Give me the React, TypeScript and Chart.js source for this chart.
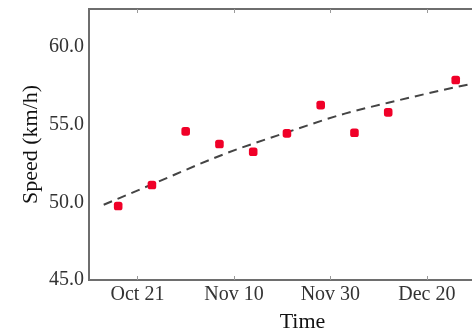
import React, { useEffect, useRef } from "react";
import { Chart, registerables } from "chart.js";

Chart.register(...registerables);

// ---- data ----
const pointDates = [
  "2021-10-17", "2021-10-24", "2021-10-31", "2021-11-07", "2021-11-14",
  "2021-11-21", "2021-11-28", "2021-12-05", "2021-12-12", "2021-12-26",
];
const speedValues = [49.76, 51.11, 54.56, 53.75, 53.25, 54.43, 56.25, 54.47, 55.78, 57.86];

const trendDates = [
  "2021-10-14", "2021-10-24", "2021-11-08", "2021-11-21",
  "2021-12-03", "2021-12-12", "2021-12-26", "2021-12-30",
];
const trendValues = [49.84, 51.15, 53.1, 54.5, 55.7, 56.4, 57.4, 57.65];

const xTickDates = ["2021-10-21", "2021-11-10", "2021-11-30", "2021-12-20"];
const xTickLabels = ["Oct 21", "Nov 10", "Nov 30", "Dec 20"];
const yTickValues = [45, 50, 55, 60];

const xTitle = "Time";
const yTitle = "Speed (km/h)";

const BASE = Date.parse("2021-10-01T00:00:00Z");
const dayNum = (s: string) => (Date.parse(s + "T00:00:00Z") - BASE) / 86400000;

const FONT = "'Liberation Serif', 'Times New Roman', serif";
const AXIS_COLOR = "#6e6e6e";

export default function App() {
  const ref = useRef<HTMLCanvasElement | null>(null);

  useEffect(() => {
    if (!ref.current) return;
    const tickDays = xTickDates.map(dayNum);

    const frame = {
      id: "frame",
      afterDraw(chart: any) {
        const { ctx, chartArea } = chart;
        const { left, right, top, bottom } = chartArea;
        ctx.save();
        ctx.strokeStyle = AXIS_COLOR;
        ctx.lineWidth = 2;
        ctx.beginPath();
        ctx.moveTo(left - 1, top);
        ctx.lineTo(right, top);
        ctx.stroke();
        ctx.strokeStyle = "#9a9a9a";
        ctx.lineWidth = 1;
        const xs = chart.scales.x;
        tickDays.forEach((d) => {
          const px = Math.round(xs.getPixelForValue(d)) + 0.5;
          ctx.beginPath();
          ctx.moveTo(px, top);
          ctx.lineTo(px, top + 4);
          ctx.moveTo(px, bottom);
          ctx.lineTo(px, bottom - 4);
          ctx.stroke();
        });
        ctx.restore();
      },
    };

    const chart = new Chart(ref.current, {
      type: "scatter",
      data: {
        datasets: [
          {
            label: "Speed",
            data: pointDates.map((d, i) => ({ x: dayNum(d), y: speedValues[i] })),
            pointStyle: "rectRounded",
            pointRadius: 5,
            pointBorderWidth: 0,
            backgroundColor: "rgb(240,0,40)",
            borderColor: "rgb(240,0,40)",
            order: 0,
          },
          {
            label: "Trend",
            data: trendDates.map((d, i) => ({ x: dayNum(d), y: trendValues[i] })),
            showLine: true,
            pointRadius: 0,
            borderColor: "#444444",
            borderWidth: 2,
            borderDash: [9, 6],
            cubicInterpolationMode: "monotone",
            fill: false,
            order: 1,
          },
        ],
      },
      options: {
        animation: false,
        responsive: false,
        devicePixelRatio: 1,
        layout: { padding: { top: 9, left: 0, right: 0, bottom: 0 } },
        plugins: {
          legend: { display: false },
          tooltip: { enabled: false },
        },
        scales: {
          x: {
            type: "linear",
            min: 9.95,
            max: 98.5,
            grid: { display: false, drawTicks: false },
            border: { display: true, color: AXIS_COLOR, width: 2 },
            afterBuildTicks: (scale: any) => {
              scale.ticks = tickDays.map((v) => ({ value: v }));
            },
            afterFit: (scale: any) => {
              scale.height = 55;
              scale.paddingLeft = 0;
              scale.paddingRight = 0;
            },
            ticks: {
              padding: 3,
              color: "#333",
              font: { family: FONT, size: 20 },
              maxRotation: 0,
              autoSkip: false,
              callback: (v: any) => {
                const i = tickDays.indexOf(Number(v));
                return i >= 0 ? xTickLabels[i] : "";
              },
            },
            title: {
              display: true,
              text: xTitle,
              color: "#111",
              font: { family: FONT, size: 22 },
              padding: { top: 0, bottom: 0 },
            },
          },
          y: {
            type: "linear",
            min: 45,
            max: 62.43,
            grid: { display: false, drawTicks: false },
            border: { display: true, color: AXIS_COLOR, width: 2 },
            afterBuildTicks: (scale: any) => {
              scale.ticks = yTickValues.map((v) => ({ value: v }));
            },
            afterFit: (scale: any) => {
              scale.width = 89;
              scale.paddingTop = 0;
              scale.paddingBottom = 0;
            },
            ticks: {
              padding: 5,
              color: "#333",
              font: { family: FONT, size: 20 },
              callback: (v: any) => Number(v).toFixed(1),
            },
            title: {
              display: true,
              text: yTitle,
              color: "#111",
              font: { family: FONT, size: 22 },
              padding: { top: 18, bottom: 0 },
            },
          },
        },
      },
      plugins: [frame],
    } as any);

    return () => chart.destroy();
  }, []);

  return (
    <div
      style={{
        position: "absolute",
        left: 0,
        top: 0,
        width: 472,
        height: 335,
        overflow: "hidden",
        background: "#fff",
      }}
    >
      <canvas ref={ref} width={521} height={335} style={{ display: "block" }} />
    </div>
  );
}
